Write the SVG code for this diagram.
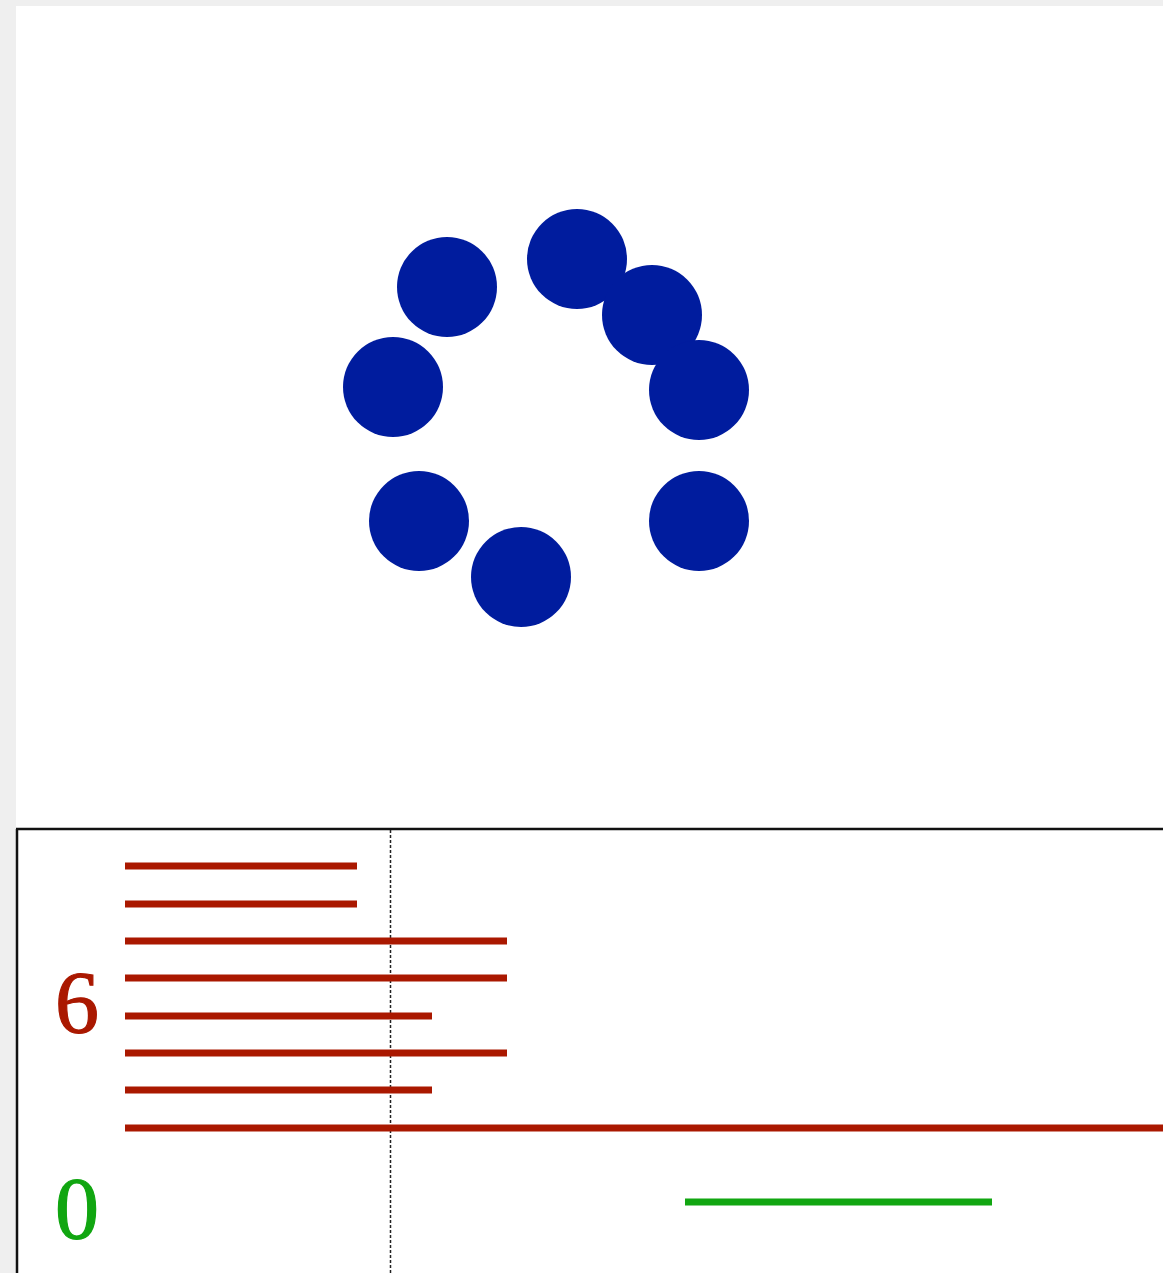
<svg xmlns="http://www.w3.org/2000/svg" width="1163" height="1273" viewBox="0 0 1163 1273">
<style>
.dot{fill:#001c9e}
.bar{stroke:#aa1800;stroke-width:7}
.num{font-family:"Liberation Serif",serif;font-size:88px;stroke-width:1.2}
</style>
<rect x="0" y="0" width="1163" height="1273" fill="#efefef"/>
<rect x="16" y="6" width="1147" height="1267" fill="#ffffff"/>
<g id="dots">
<circle class="dot" cx="447" cy="287" r="50"/>
<circle class="dot" cx="577" cy="259" r="50"/>
<circle class="dot" cx="652" cy="315" r="50"/>
<circle class="dot" cx="699" cy="390" r="50"/>
<circle class="dot" cx="393" cy="387" r="50"/>
<circle class="dot" cx="419" cy="521" r="50"/>
<circle class="dot" cx="521" cy="577" r="50"/>
<circle class="dot" cx="699" cy="521" r="50"/>
</g>
<g id="panel">
<line x1="16" y1="829" x2="1163" y2="829" stroke="#111" stroke-width="2.5"/>
<line x1="17" y1="829" x2="17" y2="1273" stroke="#111" stroke-width="2.5"/>
<line x1="390.5" y1="830" x2="390.5" y2="1273" stroke="#222" stroke-width="1.5" stroke-dasharray="3,2"/>
</g>
<g id="bars">
<line class="bar" x1="125" y1="866" x2="357" y2="866"/>
<line class="bar" x1="125" y1="904" x2="357" y2="904"/>
<line class="bar" x1="125" y1="941" x2="507" y2="941"/>
<line class="bar" x1="125" y1="978" x2="507" y2="978"/>
<line class="bar" x1="125" y1="1016" x2="432" y2="1016"/>
<line class="bar" x1="125" y1="1053" x2="507" y2="1053"/>
<line class="bar" x1="125" y1="1090" x2="432" y2="1090"/>
<line class="bar" x1="125" y1="1128" x2="1163" y2="1128"/>
<line x1="685" y1="1202" x2="992" y2="1202" stroke="#11a611" stroke-width="7"/>
</g>
<text class="num" x="55" y="1032" fill="#aa1800" stroke="#aa1800">6</text>
<text class="num" x="55" y="1238" fill="#11a611" stroke="#11a611">0</text>
</svg>
